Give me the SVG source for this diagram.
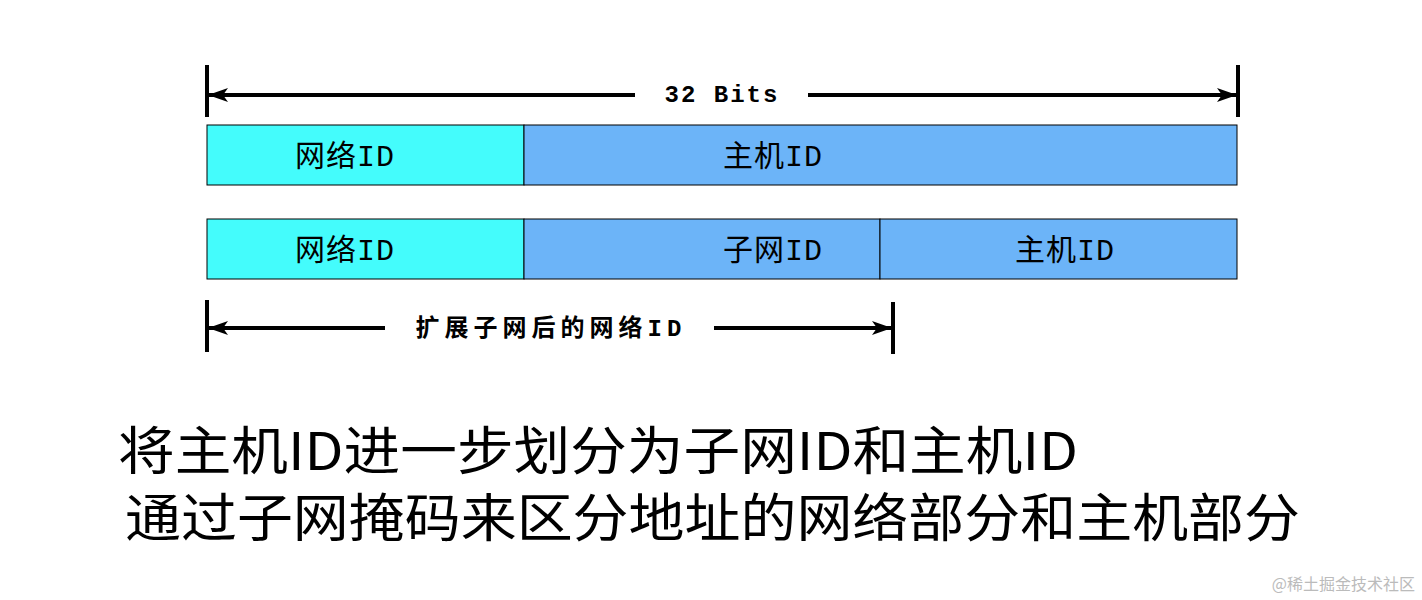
<svg xmlns="http://www.w3.org/2000/svg" width="1422" height="600" viewBox="0 0 1422 600">
<defs>
<marker id="ah" markerWidth="20" markerHeight="14" refX="19" refY="7" orient="auto-start-reverse" markerUnits="userSpaceOnUse">
<path d="M0,0 L20,7 L0,14 L5,7 Z" fill="#000"/>
</marker>
<style>
.bar{stroke:#000;stroke-width:4}
.dim{stroke:#000;stroke-width:4;fill:none}
.net{fill:#44FCFC;stroke:#000;stroke-width:1}
.host{fill:#6CB4F8;stroke:#000;stroke-width:1}
.lbl{font-family:"Liberation Mono","Noto Sans CJK SC",monospace;font-size:30px;text-anchor:middle;letter-spacing:1px}
.dl{font-family:"Liberation Mono","Noto Sans CJK SC",monospace;font-size:24px;font-weight:bold;text-anchor:middle;letter-spacing:2px}
.big{font-family:"Noto Sans CJK SC",sans-serif;font-size:52px}
</style>
</defs>
<rect width="1422" height="600" fill="#fff"/>
<g id="connectors">
<line class="bar" x1="207" y1="65" x2="207" y2="117"/>
<line class="bar" x1="1238" y1="65" x2="1238" y2="117"/>
<line class="dim" x1="209" y1="95" x2="635" y2="95" marker-start="url(#ah)"/>
<line class="dim" x1="808" y1="95" x2="1236" y2="95" marker-end="url(#ah)"/>
<line class="bar" x1="207" y1="300" x2="207" y2="352"/>
<line class="bar" x1="893" y1="302" x2="893" y2="354"/>
<line class="dim" x1="209" y1="328" x2="385" y2="328" marker-start="url(#ah)"/>
<line class="dim" x1="714" y1="328" x2="891" y2="328" marker-end="url(#ah)"/>
</g>
<g id="dim32"><text class="dl" x="722" y="102">32 Bits</text></g>
<g id="dimsub"><text class="dl" x="551" y="336" style="letter-spacing:5px">扩展子网后的网络ID</text></g>
<g id="row1-net"><rect class="net" x="207" y="125" width="317" height="60"/><text class="lbl" x="345" y="166">网络ID</text></g>
<g id="row1-host"><rect class="host" x="524" y="125" width="713" height="60"/><text class="lbl" x="773" y="166">主机ID</text></g>
<g id="row2-net"><rect class="net" x="207" y="219" width="317" height="60"/><text class="lbl" x="345" y="260">网络ID</text></g>
<g id="row2-sub"><rect class="host" x="524" y="219" width="356" height="60"/><text class="lbl" x="773" y="260">子网ID</text></g>
<g id="row2-host"><rect class="host" x="880" y="219" width="357" height="60"/><text class="lbl" x="1065" y="260">主机ID</text></g>
<g id="caption">
<text class="big" x="118" y="470" textLength="960" lengthAdjust="spacingAndGlyphs">将主机ID进一步划分为子网ID和主机ID</text>
<text class="big" x="125" y="537" textLength="1175" lengthAdjust="spacingAndGlyphs">通过子网掩码来区分地址的网络部分和主机部分</text>
</g>
<text x="1415" y="590" text-anchor="end" font-family="Noto Sans CJK SC,sans-serif" font-size="16" fill="#bbb">@稀土掘金技术社区</text>
</svg>
